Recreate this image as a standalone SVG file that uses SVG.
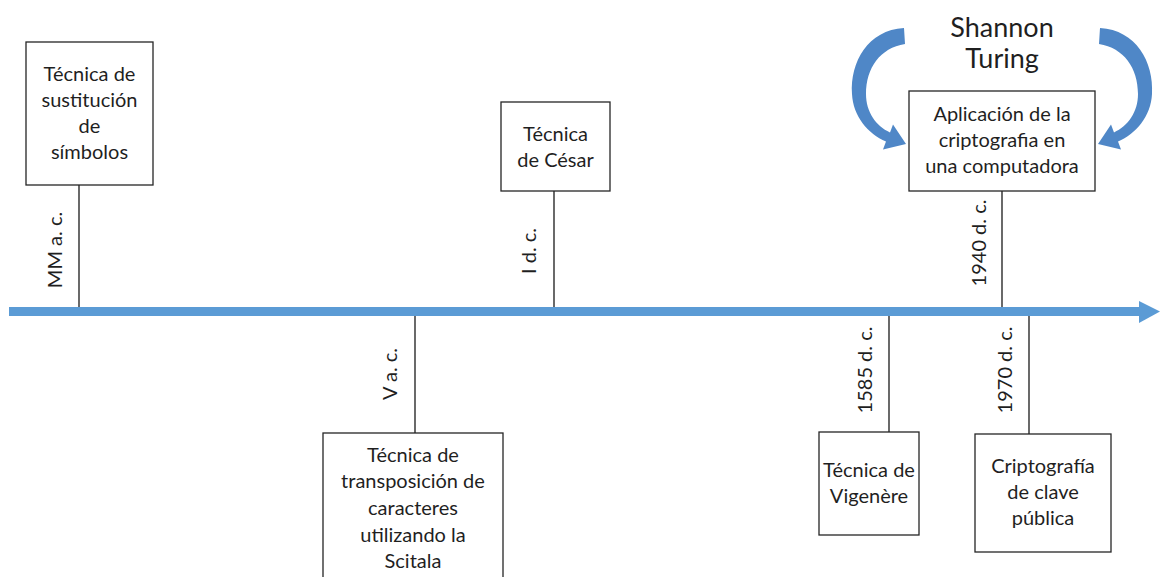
<svg xmlns="http://www.w3.org/2000/svg" width="1161" height="577" viewBox="0 0 1161 577">
<style>
.box{fill:#fff;stroke:#262626;stroke-width:1.3}
.stem{stroke:#1a1a1a;stroke-width:1.3;fill:none}
.t{font-family:Lato,"Open Sans",sans-serif;font-size:20px;fill:#1f1f1f;text-anchor:middle}
.big{font-size:27px}
.curve{fill:#4F87C7}
</style>
<rect width="1161" height="577" fill="#fff"/>
<g id="timeline">
<rect x="9" y="307" width="1133" height="9" fill="#5B9BD5"/>
<polygon points="1139,301 1160,311.5 1139,323" fill="#5B9BD5"/>
</g>
<g id="connectors">
<line class="stem" x1="79" y1="185" x2="79" y2="307"/>
<line class="stem" x1="554" y1="191" x2="554" y2="307"/>
<line class="stem" x1="1002" y1="191" x2="1002" y2="307"/>
<line class="stem" x1="415" y1="316" x2="415" y2="433"/>
<line class="stem" x1="889" y1="316" x2="889" y2="432"/>
<line class="stem" x1="1029" y1="316" x2="1029" y2="434"/>
<path class="curve" d="M904,28 C868,30 850,62 852,94 C853,116 868,134 886,141.6 L883,149.5 L906,144 L893,124.5 L890,132.4 C876,126 866,112 866,94 C866,68 880,48 905,44 Z"/>
<path class="curve" d="M1100,28 C1136,30 1154,62 1152,94 C1151,116 1136,134 1118,141.6 L1121,149.5 L1098,144 L1111,124.5 L1114,132.4 C1128,126 1138,112 1138,94 C1138,68 1124,48 1099,44 Z"/>
</g>
<g id="node-mm">
<rect class="box" x="26" y="42" width="127" height="143"/>
<text class="t" x="89.5" y="81">Técnica de</text>
<text class="t" x="89.5" y="107">sustitución</text>
<text class="t" x="89.5" y="133">de</text>
<text class="t" x="89.5" y="159">símbolos</text>
<text class="t" transform="translate(62,250) rotate(-90)">MM a. c.</text>
</g>
<g id="node-cesar">
<rect class="box" x="501" y="102" width="109" height="89"/>
<text class="t" x="555.5" y="141">Técnica</text>
<text class="t" x="555.5" y="167">de César</text>
<text class="t" transform="translate(536,251) rotate(-90)">I d. c.</text>
</g>
<g id="node-computadora">
<text class="t big" x="1002" y="37">Shannon</text>
<text class="t big" x="1002" y="68">Turing</text>
<rect class="box" x="909" y="91" width="186" height="100"/>
<text class="t" x="1002" y="121">Aplicación de la</text>
<text class="t" x="1002" y="147">criptografia en</text>
<text class="t" x="1002" y="173">una computadora</text>
<text class="t" transform="translate(986,243) rotate(-90)">1940 d. c.</text>
</g>
<g id="node-scitala">
<rect class="box" x="323" y="433" width="180" height="170"/>
<text class="t" x="413" y="462">Técnica de</text>
<text class="t" x="413" y="488">transposición de</text>
<text class="t" x="413" y="515">caracteres</text>
<text class="t" x="413" y="542">utilizando la</text>
<text class="t" x="413" y="568">Scitala</text>
<text class="t" transform="translate(397,374) rotate(-90)">V a. c.</text>
</g>
<g id="node-vigenere">
<rect class="box" x="819" y="432" width="100" height="103"/>
<text class="t" x="869" y="477">Técnica de</text>
<text class="t" x="869" y="503">Vigenère</text>
<text class="t" transform="translate(872,370) rotate(-90)">1585 d. c.</text>
</g>
<g id="node-publica">
<rect class="box" x="975" y="434" width="136" height="118"/>
<text class="t" x="1043" y="473">Criptografía</text>
<text class="t" x="1043" y="499">de clave</text>
<text class="t" x="1043" y="525">pública</text>
<text class="t" transform="translate(1012,370) rotate(-90)">1970 d. c.</text>
</g>
</svg>
